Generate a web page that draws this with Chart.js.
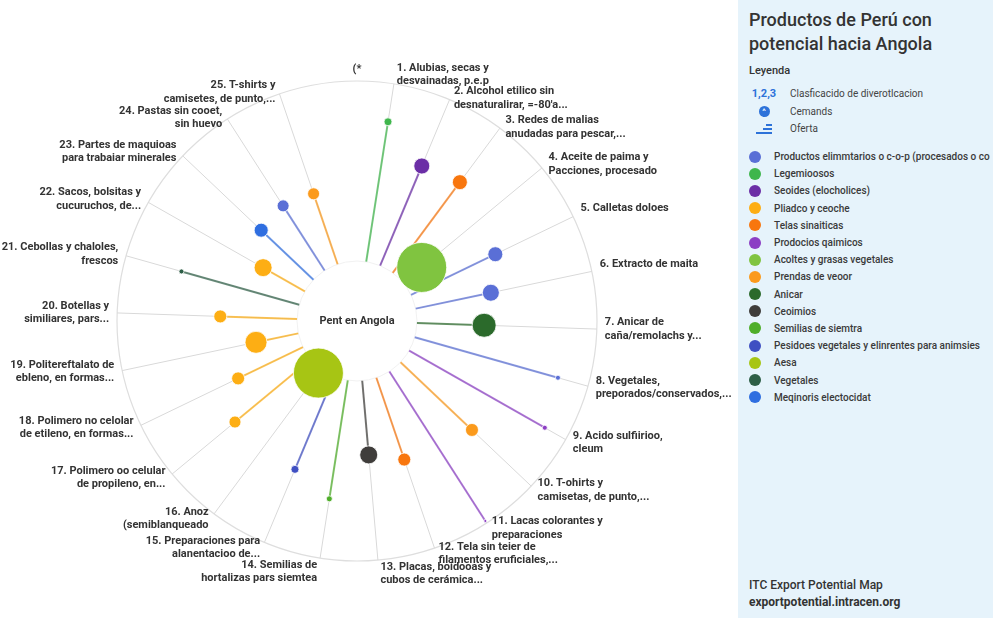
<!DOCTYPE html>
<html lang="es">
<head>
<meta charset="utf-8">
<title>Productos de Perú con potencial hacia Angola</title>
<script src="https://cdn.jsdelivr.net/npm/chart.js@4.4.1/dist/chart.umd.min.js"></script>
<style>
  html, body { margin: 0; padding: 0; background: #fff; }
  body { width: 998px; height: 618px; position: relative; overflow: hidden; font-family: Roboto, "Noto Sans", sans-serif; color: #333; }
  #chartWrap { position: absolute; left: 0; top: 0; width: 738px; height: 618px; }
  #panel { position: absolute; left: 738px; top: 0; width: 255px; height: 618px; background: #e6f3fb; }
  #panel .title { position: absolute; left: 11px; top: 8px; font-size: 18px; font-weight: 500; line-height: 24px; color: #333; }
  #panel .sub { position: absolute; left: 11px; top: 64px; font-size: 11px; font-weight: 500; color: #333; }
  .keyRow { position: absolute; left: 11px; height: 16px; font-size: 10px; color: #444; display: flex; align-items: center; }
  .keyRow .ico { width: 30px; display: flex; justify-content: center; color: #2d72d9; font-weight: 700; font-size: 11px; }
  .keyRow .txt { margin-left: 11px; }
  .circ { width: 11px; height: 11px; border-radius: 50%; background: #2d72d9; color: #fff; font-size: 8px; line-height: 11px; text-align: center; }
  .bars { width: 16px; height: 12px; position: relative; }
  .bars i { position: absolute; height: 2px; background: #2d72d9; right: 0; }
  #cats { position: absolute; left: 11px; top: 148px; }
  .cat { height: 17.2px; display: flex; align-items: center; font-size: 10px; font-weight: 500; color: #3a3a3a; white-space: nowrap; }
  .cat .dot { width: 12px; height: 12px; border-radius: 50%; margin-right: 13px; flex: none; }
  #foot { position: absolute; left: 11px; top: 577px; font-size: 12px; line-height: 17px; color: #333; font-weight: 500; }
  #foot b { font-weight: 700; }
</style>
</head>
<body>
<div id="chartWrap"><canvas id="radial"></canvas></div>
<div id="panel">
  <div class="title">Productos de Perú con<br>potencial hacia Angola</div>
  <div class="sub">Leyenda</div>
  <div class="keyRow" style="top:85px"><span class="ico">1,2,3</span><span class="txt">Clasficacido de diverotlcacion</span></div>
  <div class="keyRow" style="top:103px"><span class="ico"><span class="circ">^</span></span><span class="txt">Cemands</span></div>
  <div class="keyRow" style="top:120px"><span class="ico"><span class="bars"><i style="top:2px;width:6px"></i><i style="top:6px;width:9px"></i><i style="top:10px;width:16px"></i></span></span><span class="txt">Oferta</span></div>
  <div id="cats"></div>
  <div id="foot">ITC Export Potential Map<br><b>exportpotential.intracen.org</b></div>
</div>
<script>
// Productos (slot 0 is the empty "(*" position at the top)
const etiquetas = [
    ['(*'],
    ['1. Alubias, secas y', 'desvainadas, p.e.p'],
    ['2. Alcohol etilico sin', "desnaturalirar, =-80'a..."],
    ['3. Redes de malias', 'anudadas para pescar,...'],
    ['4. Aceite de paima y', 'Pacciones, procesado'],
    ['5. Calletas doloes'],
    ['6. Extracto de maita'],
    ['7. Anicar de', 'caña/remolachs y...'],
    ['8. Vegetales,', 'preporados/conservados,...'],
    ['9. Acido sulfiirioo,', 'cleum'],
    ['10. T-ohirts y', 'camisetas, de punto,...'],
    ['11. Lacas colorantes y', 'preparaciones'],
    ['12. Tela sin teier de', 'filamentos eruficiales,...'],
    ['13. Placas, boidooas y', 'cubos de cerámica...'],
    ['14. Semilias de', 'hortalizas pars siemtea'],
    ['15. Preparaciones para', 'alanentacioo de...'],
    ['16. Anoz', '(semiblanqueado'],
    ['17. Polimero oo celular', 'de propileno, en...'],
    ['18. Polimero no celolar', 'de etileno, en formas...'],
    ['19. Politereftalato de', 'ebleno, en formas...'],
    ['20. Botellas y', 'similiares, pars...'],
    ['21. Cebollas y chaloles,', 'frescos'],
    ['22. Sacos, bolsitas y', 'cucuruchos, de...'],
    ['23. Partes de maquioas', 'para trabaiar minerales'],
    ['24. Pastas sin cooet,', 'sin huevo'],
    ['25. T-shirts y', 'camisetes, de punto,...']
];

// potencial (distance from hub) and demanda (dot size)
const potencial = [null, 84, 70, 72, 35, 64, 57, 53, 87, 90, 66, 99, 61, 56, 75, 67, 27, 66, 55, 43, 57, 76, 45, 55, 57, 56];
const demanda   = [null, 16, 32, 30, 100, 30, 34, 48, 10, 10, 26, 6, 26, 36, 12, 16, 100, 24, 26, 44, 26, 10, 36, 28, 24, 24];
const sector    = [null, 1, 2, 4, 6, 0, 0, 8, 0, 5, 7, 5, 4, 9, 10, 11, 12, 3, 3, 3, 3, 13, 3, 14, 0, 7];

const categorias = [
    'Productos elimmtarios o c-o-p (procesados o co',
    'Legemioosos',
    'Seoides (elocholices)',
    'Pliadco y ceoche',
    'Telas sinaiticas',
    'Prodocios qaimicos',
    'Acoltes y grasas vegetales',
    'Prendas de veoor',
    'Anicar',
    'Ceoimios',
    'Semilias de siemtra',
    'Pesidoes vegetales y elinrentes para animsies',
    'Aesa',
    'Vegetales',
    'Meqinoris electocidat'
];
const coloresCategoria = [
    '#5a6fd6', '#3fb64c', '#6b2ea6', '#fdae14', '#f8760e', '#8c3fc4', '#80c440', '#fb9a1c',
    '#2b6a2b', '#3f3d3b', '#4fae2a', '#3f4fc2', '#a7c514', '#2d5e46', '#2f6ee0'
];

const HUB = 25; // radius of the white hub, in scale units

function hexAlpha(hex, a) {
    const n = parseInt(hex.slice(1), 16);
    return 'rgba(' + (n >> 16) + ',' + ((n >> 8) & 255) + ',' + (n & 255) + ',' + a + ')';
}

// legend panel
const cats = document.getElementById('cats');
categorias.forEach((c, i) => {
    const row = document.createElement('div');
    row.className = 'cat';
    row.innerHTML = '<span class="dot" style="background:' + coloresCategoria[i] + '"></span>' + c;
    cats.appendChild(row);
});

const colorPunto = sector.map(s => s == null ? 'rgba(0,0,0,0)' : coloresCategoria[s]);

const spokePlugin = {
    id: 'spokes',
    beforeDatasetsDraw(chart) {
        const r = chart.scales.r;
        const ctx = chart.ctx;
        const hub = r.getDistanceFromCenterForValue(HUB);
        ctx.save();
        ctx.beginPath();
        ctx.arc(r.xCenter, r.yCenter, hub, 0, Math.PI * 2);
        ctx.fillStyle = '#fff';
        ctx.fill();
        ctx.strokeStyle = '#f1f1f1';
        ctx.lineWidth = 1;
        ctx.stroke();

        potencial.forEach((v, i) => {
            if (v == null) return;
            const a = r.getPointPositionForValue(i, HUB);
            const b = r.getPointPositionForValue(i, v);
            ctx.beginPath();
            ctx.moveTo(a.x, a.y);
            ctx.lineTo(b.x, b.y);
            ctx.strokeStyle = hexAlpha(coloresCategoria[sector[i]], 0.7);
            ctx.lineWidth = 2;
            ctx.stroke();
        });

        ctx.fillStyle = '#333';
        ctx.font = 'bold 11px Roboto';
        ctx.textAlign = 'center';
        ctx.textBaseline = 'middle';
        ctx.fillText('Pent en Angola', r.xCenter, r.yCenter);
        ctx.restore();
    },
    afterDatasetsDraw(chart) {
        const r = chart.scales.r;
        const ctx = chart.ctx;
        const lh = 13.5;
        ctx.save();
        ctx.fillStyle = '#333';
        ctx.font = 'bold 11px Roboto';
        ctx.textBaseline = 'middle';
        etiquetas.forEach((lines, i) => {
            const p = r.getPointPosition(i, r.drawingArea + 6);
            const ang = r.getIndexAngle(i);
            const s = Math.sin(ang), c = Math.cos(ang);
            ctx.textAlign = i === 0 ? 'center' : (s > 0 ? 'left' : 'right');
            const h = lines.length * lh;
            let top = p.y - h / 2;
            if (c > 0.97) top -= 3;
            else if (c > 0.75) top += 4;
            if (c < -0.97) top = p.y - 6;
            if (lines.length === 1) top -= 6;
            if (i === 0) top = p.y - h;
            const x = i === 0 ? r.xCenter : p.x + (s > 0 ? 2 : -2);
            lines.forEach((t, k) => ctx.fillText(t, x, top + lh * k + lh / 2));
        });
        ctx.restore();
    }
};

new Chart(document.getElementById('radial'), {
    type: 'radar',
    data: {
        labels: etiquetas,
        datasets: [{
            label: 'Potencial',
            data: potencial,
            showLine: false,
            fill: false,
            borderWidth: 0,
            backgroundColor: 'rgba(0,0,0,0)',
            pointRadius: demanda.map(d => d == null ? 0 : d / 4),
            pointHoverRadius: demanda.map(d => d == null ? 0 : d / 4),
            pointBackgroundColor: colorPunto,
            pointBorderColor: 'rgba(255,255,255,0.8)',
            pointBorderWidth: 1
        }]
    },
    options: {
        responsive: true,
        maintainAspectRatio: false,
        animation: false,
        layout: { padding: { left: 117, right: 141, top: 81, bottom: 57 } },
        plugins: {
            legend: { display: false },
            tooltip: { enabled: false }
        },
        scales: {
            r: {
                min: 0,
                max: 100,
                startAngle: -5,
                ticks: { display: false, stepSize: 100 },
                grid: { circular: true, color: '#dedede', lineWidth: 1.2 },
                angleLines: {
                    color: ctx => ctx.index === 0 ? 'rgba(0,0,0,0)' : '#d9d9d9',
                    lineWidth: 1
                },
                pointLabels: { display: false }
            }
        }
    },
    plugins: [spokePlugin]
});
</script>
</body>
</html>
